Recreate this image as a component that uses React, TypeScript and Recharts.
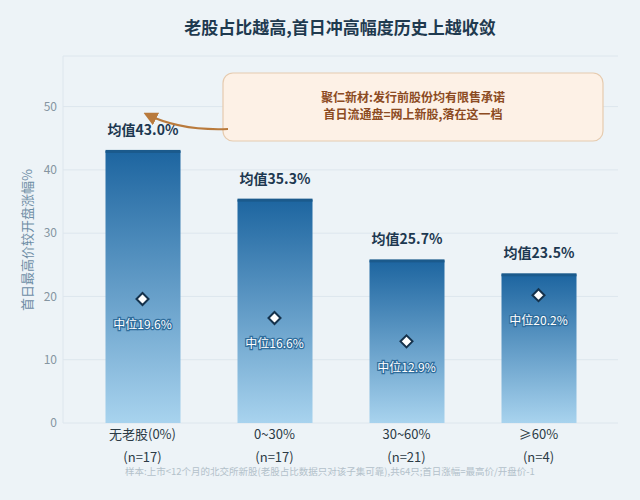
import {
  ComposedChart,
  Bar,
  Scatter,
  XAxis,
  YAxis,
  CartesianGrid,
  LabelList,
} from "recharts";

const categories = ["无老股(0%)", "0~30%", "30~60%", "≥60%"];
const counts = [17, 17, 21, 4];
const means = [43.0, 35.3, 25.7, 23.5];
const medians = [19.6, 16.6, 12.9, 20.2];
const yTicks = [0, 10, 20, 30, 40, 50];

const data = categories.map((name, i) => ({
  name,
  n: counts[i],
  mean: means[i],
  median: medians[i],
}));

const FONT = "'Noto Sans CJK SC', 'Noto Sans', sans-serif";

const GradientBar = (props: any) => {
  const { x, y, width, height } = props;
  if (!height || height <= 0) return null;
  return (
    <g>
      <rect x={x} y={y} width={width} height={height} fill="url(#barGrad)" />
      <rect x={x} y={y - 1} width={width} height={3} fill="#1b5a8c" />
    </g>
  );
};

const MedianMark = (props: any) => {
  const { cx, cy, payload } = props;
  const r = 6;
  return (
    <g>
      <path
        d={`M${cx},${cy - r} L${cx + r},${cy} L${cx},${cy + r} L${cx - r},${cy} Z`}
        fill="#ffffff"
        stroke="#15324c"
        strokeWidth={2}
      />
      <text
        x={cx}
        y={cy + 27}
        textAnchor="middle"
        dominantBaseline="middle"
        fontSize={12}
        fontFamily={FONT}
        fill="#ffffff"
        stroke="#2f6d9c"
        strokeWidth={2.5}
        paintOrder="stroke"
      >
        {`中位${payload.median.toFixed(1)}%`}
      </text>
    </g>
  );
};

const CategoryTick = (props: any) => {
  const { x, y, payload, index } = props;
  return (
    <g>
      <text
        x={x}
        y={y + 4}
        textAnchor="middle"
        dominantBaseline="middle"
        fontSize={13}
        fontFamily={FONT}
        fill="#2b3a45"
      >
        {payload.value}
      </text>
      <text
        x={x}
        y={y + 27}
        textAnchor="middle"
        dominantBaseline="middle"
        fontSize={13}
        fontFamily={FONT}
        fill="#2b3a45"
      >
        {`(n=${counts[index]})`}
      </text>
    </g>
  );
};

export default function App() {
  return (
    <div
      style={{
        position: "fixed",
        left: 0,
        top: 0,
        width: 640,
        height: 500,
        background: "#edf3f7",
        fontFamily: FONT,
      }}
    >
      <ComposedChart
        width={640}
        height={500}
        data={data}
        margin={{ top: 56, right: 22, bottom: 0, left: 0 }}
      >
        <defs>
          <linearGradient id="barGrad" x1="0" y1="0" x2="0" y2="1">
            <stop offset="0%" stopColor="#1d65a0" />
            <stop offset="100%" stopColor="#a8d3ee" />
          </linearGradient>
        </defs>
        <CartesianGrid vertical={false} stroke="#dde6ed" />
        <XAxis
          dataKey="name"
          axisLine={false}
          tickLine={false}
          height={77}
          padding={{ left: 13.5, right: 13.5 }}
          tick={<CategoryTick />}
          interval={0}
        />
        <YAxis
          width={63}
          domain={[0, 58]}
          ticks={yTicks}
          axisLine={{ stroke: "#dde6ed" }}
          tickLine={false}
          tick={{ fontSize: 12, fill: "#8595a1", fontFamily: FONT, dx: 2 }}
        />
        <Bar
          dataKey="mean"
          barSize={75}
          shape={<GradientBar />}
          isAnimationActive={false}
        >
          <LabelList
            dataKey="mean"
            position="top"
            offset={16}
            formatter={(v: any) => `均值${Number(v).toFixed(1)}%`}
            style={{
              fontSize: 14,
              fontWeight: 700,
              fill: "#1d3850",
              fontFamily: FONT,
            }}
          />
        </Bar>
        <Scatter
          dataKey="median"
          shape={<MedianMark />}
          isAnimationActive={false}
        />
      </ComposedChart>

      <svg
        width={640}
        height={500}
        style={{ position: "absolute", left: 0, top: 0, pointerEvents: "none" }}
      >
        <defs>
          <marker
            id="arrowHead"
            viewBox="0 0 10 10"
            refX="8"
            refY="5"
            markerWidth="7"
            markerHeight="7"
            orient="auto-start-reverse"
          >
            <path d="M0,0 L10,5 L0,10 z" fill="#b97a3c" />
          </marker>
        </defs>
        <text
          x={340}
          y={29}
          textAnchor="middle"
          dominantBaseline="middle"
          fontSize={17}
          fontWeight={700}
          fill="#1f3a4f"
          fontFamily={FONT}
        >
          老股占比越高,首日冲高幅度历史上越收敛
        </text>
        <text
          transform="translate(28,240) rotate(-90)"
          textAnchor="middle"
          dominantBaseline="middle"
          fontSize={13}
          fill="#6d8da5"
          fontFamily={FONT}
        >
          首日最高价较开盘涨幅%
        </text>
        <rect
          x={223}
          y={73}
          width={380}
          height={68}
          rx={10}
          fill="#fdf1e6"
          stroke="#e6cbaf"
          strokeWidth={1.2}
        />
        <text
          x={413}
          y={99}
          textAnchor="middle"
          dominantBaseline="middle"
          fontSize={12}
          fontWeight={700}
          fill="#8c4b22"
          fontFamily={FONT}
        >
          聚仁新材:发行前股份均有限售承诺
        </text>
        <text
          x={413}
          y={116}
          textAnchor="middle"
          dominantBaseline="middle"
          fontSize={12}
          fontWeight={700}
          fill="#8c4b22"
          fontFamily={FONT}
        >
          首日流通盘=网上新股,落在这一档
        </text>
        <path
          d="M228,129 Q180,131 146,114"
          fill="none"
          stroke="#b97a3c"
          strokeWidth={2}
          markerEnd="url(#arrowHead)"
        />
        <text
          x={330}
          y={472}
          textAnchor="middle"
          dominantBaseline="middle"
          fontSize={9.5}
          fill="#b3c1ca"
          fontFamily={FONT}
        >
          样本:上市&lt;12个月的北交所新股(老股占比数据只对该子集可靠),共64只;首日涨幅=最高价/开盘价-1
        </text>
      </svg>
    </div>
  );
}
